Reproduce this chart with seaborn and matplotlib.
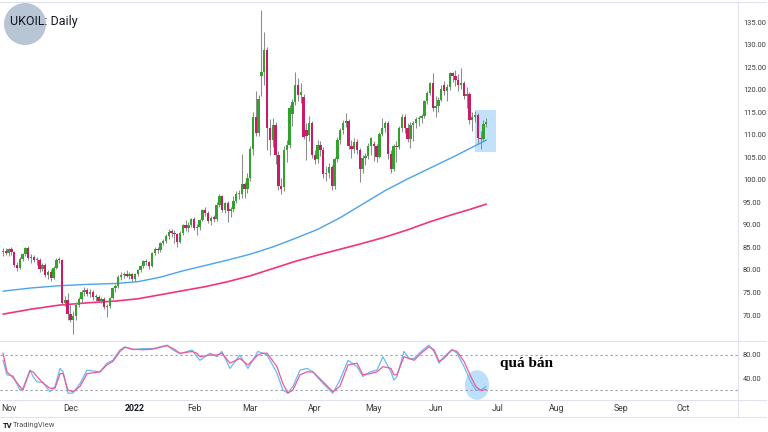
import numpy as np
import pandas as pd
import seaborn as sns
import matplotlib.pyplot as plt
from matplotlib import font_manager
from matplotlib.patches import Rectangle, Ellipse
from matplotlib.lines import Line2D

# daily candles, 28 Oct 2021 -> 27 Jun 2022 (one entry per trading day)
opens = [
    84.0, 84.3, 83.7, 84.6, 84.0, 81.0, 80.5, 82.5, 83.5, 84.9,
    82.6, 82.9, 82.1, 82.3, 80.2, 81.2, 78.9, 79.6, 78.3, 80.5,
    82.2, 82.1, 72.7, 73.4, 70.3, 69.0, 69.7, 72.3, 73.5, 75.0,
    75.6, 74.6, 75.2, 73.9, 74.0, 73.2, 73.5, 71.8, 72.0, 73.8,
    75.9, 76.5, 78.5, 78.9, 79.2, 78.6, 79.0, 77.9, 79.0, 80.0,
    80.8, 81.9, 81.7, 80.9, 83.7, 84.6, 84.4, 86.0, 86.4, 87.5,
    88.4, 88.3, 87.9, 86.3, 88.2, 89.9, 89.3, 90.0, 91.2, 89.2,
    89.5, 91.1, 93.2, 92.7, 90.8, 91.5, 91.4, 94.4, 96.4, 93.3,
    94.8, 93.0, 93.5, 95.4, 96.8, 96.9, 99.0, 97.9, 100.4, 106.8,
    114.0, 110.3, 123.0, 124.0, 128.8, 111.5, 108.8, 112.2, 105.5, 98.6,
    98.4, 106.6, 107.7, 114.6, 117.2, 121.0, 118.8, 118.4, 111.0, 110.0,
    112.5, 105.6, 104.6, 107.8, 106.5, 101.2, 101.6, 102.8, 98.6, 104.7,
    108.8, 111.1, 112.5, 113.0, 107.4, 106.9, 108.3, 106.6, 102.4, 104.8,
    105.3, 107.6, 108.0, 107.4, 105.0, 110.2, 111.6, 112.6, 105.8, 102.5,
    107.4, 107.2, 111.6, 114.0, 111.6, 109.0, 112.2, 112.6, 113.4, 113.6,
    114.2, 117.4, 119.3, 121.5, 116.0, 116.4, 117.8, 121.0, 119.6, 120.6,
    123.6, 123.1, 122.2, 121.0, 121.4, 118.6, 119.0, 113.2, 113.9, 114.4,
    109.2, 109.0, 112.3,
]
highs = [
    84.8, 84.9, 84.9, 85.0, 84.3, 81.8, 82.9, 83.8, 85.2, 85.4,
    83.5, 83.4, 82.9, 82.6, 81.6, 81.5, 80.0, 80.2, 80.8, 82.6,
    82.8, 82.4, 74.2, 74.8, 72.2, 71.0, 72.9, 74.0, 75.5, 76.2,
    76.0, 75.8, 75.6, 74.6, 74.4, 74.0, 74.0, 72.5, 74.0, 76.3,
    76.9, 78.8, 79.5, 79.6, 79.9, 79.5, 79.3, 79.4, 80.3, 81.2,
    82.3, 82.5, 82.0, 84.0, 85.0, 85.1, 86.3, 86.9, 88.0, 89.1,
    89.0, 88.8, 88.2, 88.6, 90.2, 91.0, 90.6, 91.5, 91.7, 90.3,
    91.3, 93.6, 93.9, 93.0, 92.0, 92.2, 95.0, 96.8, 96.6, 95.0,
    95.2, 94.0, 96.5, 97.5, 97.8, 105.8, 99.5, 101.5, 107.5, 115.0,
    119.8, 118.7, 137.7, 132.8, 129.5, 113.5, 113.6, 112.8, 106.4, 100.5,
    107.5, 108.8, 116.5, 118.0, 124.0, 122.5, 121.5, 119.0, 112.5, 114.2,
    113.0, 106.5, 108.8, 108.6, 107.3, 103.0, 103.8, 103.2, 105.0, 109.4,
    111.5, 113.2, 114.8, 113.4, 108.8, 109.2, 109.0, 107.0, 105.5, 106.0,
    108.2, 109.5, 108.5, 108.0, 110.6, 113.7, 113.0, 113.0, 106.6, 108.0,
    108.5, 112.0, 114.5, 114.6, 112.5, 112.8, 113.0, 114.0, 114.1, 114.5,
    117.8, 119.8, 121.8, 123.7, 118.5, 118.4, 121.0, 121.9, 121.2, 124.0,
    124.0, 124.4, 123.4, 124.8, 122.0, 120.5, 119.5, 115.0, 115.3, 114.8,
    110.8, 113.2, 113.6,
]
lows = [
    83.2, 83.3, 83.1, 83.4, 80.6, 79.8, 80.2, 82.0, 83.0, 82.2,
    81.5, 81.8, 81.0, 79.6, 79.8, 78.4, 78.0, 77.6, 78.0, 80.2,
    81.5, 72.5, 72.0, 68.9, 68.4, 65.9, 69.0, 71.8, 73.0, 74.3,
    74.2, 74.0, 73.4, 73.2, 72.8, 72.6, 71.3, 69.5, 71.5, 73.5,
    75.2, 76.0, 77.8, 78.2, 78.4, 77.9, 77.5, 77.6, 78.6, 79.5,
    80.4, 81.0, 80.2, 80.6, 83.3, 83.8, 84.0, 85.5, 85.9, 86.8,
    87.2, 86.0, 85.0, 86.0, 87.8, 88.7, 88.5, 89.6, 88.8, 87.8,
    88.8, 90.8, 92.0, 90.4, 90.0, 90.7, 90.8, 94.0, 92.8, 92.7,
    90.6, 91.8, 92.9, 94.8, 95.8, 95.9, 96.0, 97.0, 99.8, 105.6,
    109.8, 109.8, 118.5, 121.0, 106.5, 105.5, 107.2, 103.5, 97.8, 96.9,
    97.5, 104.0, 107.0, 112.0, 116.5, 117.5, 117.0, 109.0, 104.5, 108.5,
    104.8, 103.6, 103.8, 105.2, 100.5, 99.8, 100.4, 97.7, 98.0, 104.0,
    108.0, 110.2, 111.8, 106.8, 104.8, 106.0, 105.8, 99.5, 101.6, 103.2,
    104.6, 105.4, 104.2, 103.9, 104.8, 109.8, 110.5, 104.7, 101.5, 102.0,
    104.0, 106.8, 110.5, 110.3, 108.4, 107.0, 108.5, 111.6, 112.0, 112.6,
    113.8, 116.8, 118.8, 115.2, 114.0, 115.0, 117.5, 118.9, 117.5, 120.0,
    121.8, 120.8, 119.8, 120.2, 117.9, 116.0, 112.4, 110.8, 112.8, 108.0,
    106.9, 108.6, 111.8,
]
closes = [
    84.3, 83.7, 84.6, 84.0, 81.0, 80.5, 82.5, 83.5, 84.9, 82.6,
    82.9, 82.1, 82.3, 80.2, 81.2, 78.9, 79.6, 78.3, 80.5, 82.2,
    82.1, 72.7, 73.4, 70.3, 69.0, 69.7, 72.3, 73.5, 75.0, 75.6,
    74.6, 75.2, 73.9, 74.0, 73.2, 73.5, 71.8, 72.0, 73.8, 75.9,
    76.5, 78.5, 78.9, 79.2, 78.6, 79.0, 77.9, 79.0, 80.0, 80.8,
    81.9, 81.7, 80.9, 83.7, 84.6, 84.4, 86.0, 86.4, 87.5, 88.4,
    88.3, 87.9, 86.3, 88.2, 89.9, 89.3, 90.0, 91.2, 89.2, 89.5,
    91.1, 93.2, 92.7, 90.8, 91.5, 91.4, 94.4, 96.4, 93.3, 94.8,
    93.0, 93.5, 95.4, 96.8, 96.8, 99.0, 97.9, 100.4, 106.8, 114.0,
    110.3, 118.0, 123.9, 128.8, 111.5, 108.8, 112.2, 105.5, 98.6, 98.0,
    106.6, 107.7, 116.0, 117.2, 121.0, 118.8, 119.5, 109.5, 109.7, 112.5,
    105.6, 104.4, 107.8, 106.5, 101.2, 101.6, 102.8, 98.6, 104.7, 108.8,
    111.1, 112.5, 113.0, 107.4, 106.9, 108.3, 106.6, 102.4, 104.8, 105.3,
    107.6, 109.2, 107.4, 105.0, 110.2, 111.6, 112.6, 105.8, 102.5, 107.4,
    107.2, 111.6, 114.0, 111.6, 109.0, 112.2, 112.6, 113.4, 113.6, 114.2,
    117.4, 119.3, 121.5, 116.0, 116.4, 117.8, 120.2, 119.6, 120.6, 123.6,
    123.1, 122.2, 121.0, 121.4, 118.6, 119.0, 113.2, 113.9, 114.4, 109.2,
    109.0, 112.3, 112.9,
]

# moving averages, read at a few bars
ma_fast_idx = [0, 10, 20, 30, 40, 48, 56, 64, 72, 80, 88, 96, 104, 112, 120,
               128, 136, 144, 152, 160, 166, 172]
ma_fast = [75.3, 76.0, 76.5, 76.8, 77.0, 77.4, 78.4, 79.8, 81.0, 82.2, 83.5, 85.1, 87.0, 89.0, 91.6,
           94.6, 97.6, 100.2, 102.6, 105.0, 106.9, 108.8]
ma_slow_idx = [0, 10, 20, 30, 40, 48, 56, 64, 72, 80, 88, 96, 104, 112, 120,
               128, 136, 144, 152, 160, 166, 172]
ma_slow = [70.2, 71.3, 72.2, 72.7, 73.1, 73.6, 74.5, 75.4, 76.3, 77.4, 78.7, 80.3, 81.9, 83.3, 84.6,
           85.9, 87.3, 88.9, 90.7, 92.3, 93.4, 94.6]

# stochastic oscillator (%K blue, %D pink)
stoch_idx = [0, 1.4, 3.6, 6, 7.1, 9.6, 10.7, 12.1, 14.2, 16.7,
             18.5, 20.3, 21.4, 23.1, 24.9, 27.4, 29.9, 34.5, 37, 39.1,
             41.6, 43.4, 46.3, 49.8, 53.4, 58.4, 60.5, 63, 67.3, 69,
             70.1, 73.7, 76.2, 77.9, 80.8, 84.3, 87.2, 90.7, 92.5, 94,
             97.5, 99.6, 101.4, 103.2, 105.7, 108.2, 110.3, 113.9, 117.4, 119.9,
             122.8, 126, 128.1, 130.6, 133.1, 135.2, 138.1, 139.1, 140.2, 142.7,
             144.5, 146.3, 148.8, 151.6, 153.4, 155.2, 156.9, 159.8, 161.6, 164.1,
             166.5, 168.3, 170.1, 171.9]
stoch_k = [71, 46, 44, 20, 23, 54, 43, 34, 33, 17,
           26, 57, 51, 14.5, 14.5, 31, 54, 51, 66, 71,
           88.6, 94, 89, 91, 91, 97, 88.6, 82, 88.6, 77,
           71, 83, 77, 86, 57, 80, 57, 86, 83, 80,
           49, 20, 14.5, 26, 54, 57, 51, 31, 14.5, 37,
           71, 60, 43, 51, 54, 77, 51, 37, 43, 86,
           74, 74, 86, 97, 86, 66, 77, 89, 83, 60,
           34, 20, 20, 26]
stoch_d = [83, 51, 41, 26, 20, 53, 51, 43, 32, 23,
           23, 48, 48, 20, 17, 26, 48, 51, 63, 69,
           86, 93, 90, 89, 90, 96, 91, 83, 86, 83,
           77, 80, 80, 83, 66, 74, 63, 80, 83, 83,
           60, 31, 14.5, 20, 46, 51, 51, 34, 17, 26,
           63, 66, 46, 48, 51, 60, 57, 46, 46, 77,
           74, 71, 83, 94, 89, 69, 74, 89, 86, 69,
           43, 26, 19, 21]

price_ticks = [70, 75, 80, 85, 90, 95, 100, 105, 110, 115, 120, 125, 130, 135]
osc_ticks = [40, 80]
osc_levels = [80, 20]
month_names = ['Jan', 'Feb', 'Mar', 'Apr', 'May', 'Jun', 'Jul', 'Aug', 'Sep', 'Oct', 'Nov', 'Dec']

UP = '#34a12f'
DOWN = '#c81c66'
WICK = '#8c8c8c'
BORDER = '#e0e3eb'

sns.set_theme(style='white')
names = {f.name for f in font_manager.fontManager.ttflist}
axis_font = 'Liberation Sans Narrow' if 'Liberation Sans Narrow' in names else 'Roboto'
plt.rcParams['font.family'] = ['Roboto', 'DejaVu Sans']

fig = plt.figure(figsize=(7.68, 4.32), dpi=100)
fig.patch.set_facecolor('white')
ax1 = fig.add_axes([0, (432 - 341) / 432, 738 / 768, 339 / 432])
ax2 = fig.add_axes([0, (432 - 400) / 432, 738 / 768, 59 / 432], sharex=ax1)

# ---- candles
x = np.arange(len(closes))
o = np.array(opens); h = np.array(highs); l = np.array(lows); c = np.array(closes)
up = c >= o
ax1.vlines(x, l, h, color=WICK, lw=0.75, zorder=3)
ax1.bar(x, np.maximum(np.abs(c - o), 0.25), bottom=np.minimum(o, c), width=0.85,
        color=np.where(up, UP, DOWN), linewidth=0, zorder=4)

# moving averages
sns.lineplot(x=ma_fast_idx, y=ma_fast, ax=ax1, color='#4aa3f0', linewidth=1.0, zorder=2)
sns.lineplot(x=ma_slow_idx, y=ma_slow, ax=ax1, color='#f2337f', linewidth=1.2, zorder=2)

# highlight box on the last bars
ax1.add_patch(Rectangle((168.0, 106.2), 7.4, 9.3, facecolor='#90caf9', alpha=0.55,
                        edgecolor='none', zorder=1))

ax1.set_xlim(-1.07, 261.6)
ax1.set_ylim(64.24, 139.44)
ax1.set_xlabel(''); ax1.set_ylabel('')
ax1.yaxis.tick_right()
ax1.set_yticks(price_ticks)
ax1.set_yticklabels([f'{v:.2f}' for v in price_ticks])
ax1.tick_params(axis='y', length=0, pad=3.5, labelsize=5.4, labelcolor='#3a3a3a')
ax1.tick_params(axis='x', bottom=False, labelbottom=False)
for lab in ax1.get_yticklabels():
    lab.set_family(axis_font)

# ---- oscillator
ax2.add_patch(Ellipse((168.7, 28.5), 8.6, 51, facecolor='#90caf9', alpha=0.6,
                      edgecolor='none', zorder=1))
for lv in osc_levels:
    ax2.axhline(lv, color='#9a9ea8', lw=0.8, linestyle=(0, (2, 2.5)), zorder=1)
sns.lineplot(x=stoch_idx, y=stoch_k, ax=ax2, color='#6cb8f7', linewidth=0.9, zorder=3)
sns.lineplot(x=stoch_idx, y=stoch_d, ax=ax2, color='#ee5a96', linewidth=0.9, zorder=3)
ax2.set_ylim(2.8, 104)
ax2.set_xlabel(''); ax2.set_ylabel('')
ax2.yaxis.tick_right()
ax2.set_yticks(osc_ticks)
ax2.set_yticklabels([f'{v:.2f}' for v in osc_ticks])
ax2.tick_params(axis='y', length=0, pad=3.5, labelsize=5.4, labelcolor='#3a3a3a')
for lab in ax2.get_yticklabels():
    lab.set_family(axis_font)

# month ticks from the trading-day calendar
days = pd.bdate_range('2021-10-28', '2022-10-31')
pos = pd.Series(np.arange(len(days)), index=days)
firsts = pos.groupby([days.year, days.month]).min()
tick_pos, tick_lab = [], []
for (yr, mo), idx in firsts.items():
    if idx == 0:
        continue
    tick_pos.append(idx)
    tick_lab.append(str(yr) if mo == 1 else month_names[mo - 1])
ax2.set_xticks(tick_pos)
ax2.set_xticklabels(tick_lab)
ax2.tick_params(axis='x', length=0, pad=3, labelsize=6.3, labelcolor='#3a3a3a')
for lab in ax2.get_xticklabels():
    lab.set_family(axis_font)
    if lab.get_text() == '2022':
        lab.set_fontweight('bold')
        lab.set_color('#131722')

for ax in (ax1, ax2):
    ax.set_facecolor('white')
    ax.grid(False)
    for side, sp in ax.spines.items():
        sp.set_color(BORDER)
        sp.set_linewidth(0.8)
    ax.spines['left'].set_visible(False)

# frame lines around the axis areas
def fline(xs, ys):
    fig.add_artist(Line2D([v / 768 for v in xs], [1 - v / 432 for v in ys],
                          transform=fig.transFigure, color=BORDER, lw=0.8))

fline([0, 766], [1.5, 1.5])
fline([738, 766], [341, 341])
fline([738, 766], [400, 400])
fline([0, 766], [417, 417])
fline([738, 738], [400, 417])

# logo and title
fig.add_artist(Ellipse((25 / 768, 1 - 24 / 432), 42 / 768, 42 / 432, transform=fig.transFigure,
                       facecolor='#b3c2d2', edgecolor='none', alpha=0.95))
fig.text(10 / 768, 1 - 21 / 432, 'UKOIL: Daily', fontsize=9, color='#131722', va='center',
         family=['Roboto', 'DejaVu Sans'])

# annotation
fig.text(500 / 768, 1 - 363 / 432, 'quá bán', fontsize=11, fontweight='bold', color='black',
         va='center', family=['Liberation Serif', 'DejaVu Serif'])

# footer
fig.text(3 / 768, 1 - 425 / 432, 'TV', fontsize=5.5, fontweight='bold', color='#131722', va='center')
fig.text(13 / 768, 1 - 425 / 432, 'TradingView', fontsize=5.5, color='#555555', va='center')

fig.savefig('out.png', dpi=100, facecolor='white')
